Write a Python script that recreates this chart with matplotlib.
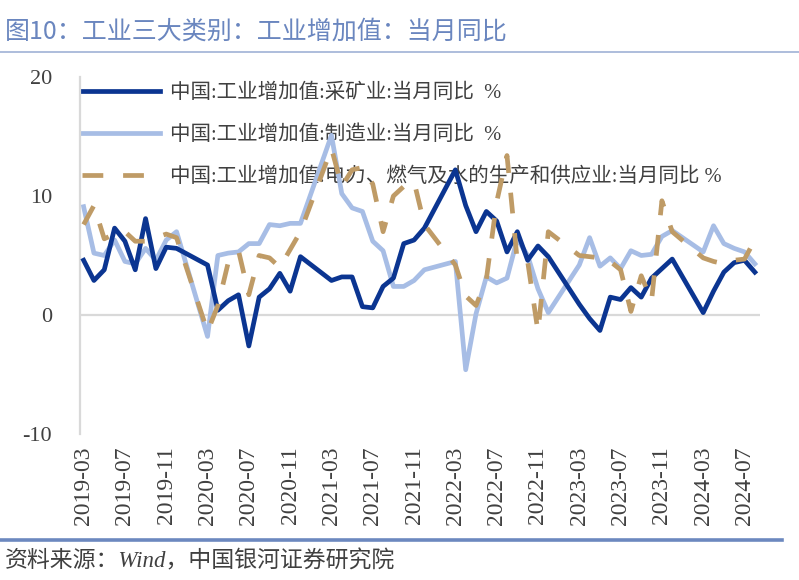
import matplotlib
matplotlib.use('Agg')
import matplotlib.pyplot as plt
from matplotlib.lines import Line2D

# ---------------- data ----------------
months = ['2019-03', '2019-04', '2019-05', '2019-06', '2019-07', '2019-08', '2019-09', '2019-10', '2019-11', '2019-12',
          '2020-03', '2020-04', '2020-05', '2020-06', '2020-07', '2020-08', '2020-09', '2020-10', '2020-11', '2020-12',
          '2021-03', '2021-04', '2021-05', '2021-06', '2021-07', '2021-08', '2021-09', '2021-10', '2021-11', '2021-12',
          '2022-03', '2022-04', '2022-05', '2022-06', '2022-07', '2022-08', '2022-09', '2022-10', '2022-11', '2022-12',
          '2023-03', '2023-04', '2023-05', '2023-06', '2023-07', '2023-08', '2023-09', '2023-10', '2023-11', '2023-12',
          '2024-03', '2024-04', '2024-05', '2024-06', '2024-07', '2024-08']

mining = [4.6, 2.9, 3.8, 7.3, 6.2, 3.8, 8.1, 3.9, 5.7, 5.6,
          4.2, 0.4, 1.2, 1.7, -2.6, 1.5, 2.2, 3.5, 2.0, 4.9,
          2.9, 3.2, 3.2, 0.7, 0.6, 2.4, 3.1, 6.0, 6.3, 7.3,
          12.2, 9.2, 7.0, 8.7, 7.9, 5.3, 7.0, 4.6, 5.8, 4.9,
          0.9, -0.3, -1.3, 1.5, 1.3, 2.3, 1.5, 3.1, 3.9, 4.7,
          0.2, 2.0, 3.6, 4.4, 4.6, 3.6]

manufacturing = [9.1, 5.2, 5.0, 6.3, 4.5, 4.3, 5.6, 4.6, 6.3, 7.0,
                 -1.8, 5.0, 5.2, 5.3, 6.0, 6.0, 7.6, 7.5, 7.7, 7.7,
                 15.1, 10.2, 9.0, 8.7, 6.2, 5.4, 2.4, 2.4, 2.9, 3.8,
                 4.5, -4.6, 0.1, 3.2, 2.7, 3.1, 6.4, 5.0, 2.2, 0.2,
                 4.2, 6.5, 4.1, 4.8, 3.9, 5.4, 5.0, 5.1, 6.6, 7.1,
                 5.3, 7.5, 6.0, 5.6, 5.3, 4.3]

utilities = [7.6, 9.2, 6.4, 6.8, 7.0, 6.2, 6.2, 6.5, 6.8, 6.5,
             -1.4, 0.8, 4.4, 5.4, 1.7, 5.0, 4.8, 4.0, 5.5, 7.0,
             14.0, 10.8, 12.2, 12.4, 11.0, 7.0, 10.0, 10.8, 11.2, 7.6,
             4.2, 1.6, 0.8, 3.0, 9.5, 13.4, 4.5, 4.5, -1.4, 7.0,
             5.0, 4.9, 4.8, 4.5, 3.8, 0.3, 3.3, 1.2, 9.6, 7.0,
             4.8, 4.5, 4.3, 4.6, 4.7, 6.3]

tick_labels = ['2019-03', '2019-07', '2019-11', '2020-03', '2020-07', '2020-11', '2021-03', '2021-07',
               '2021-11', '2022-03', '2022-07', '2022-11', '2023-03', '2023-07', '2023-11', '2024-03', '2024-07']

series_names = ['中国:工业增加值:采矿业:当月同比  %',
                '中国:工业增加值:制造业:当月同比  %',
                '中国:工业增加值:电力、燃气及水的生产和供应业:当月同比 %']

title_text = '图10：工业三大类别：工业增加值：当月同比'
source_text = '资料来源：Wind，中国银河证券研究院'


def month_index(s):
    y, m = s.split('-')
    return (int(y) - 2019) * 12 + (int(m) - 3)


x = [month_index(m) for m in months]
tick_pos = [month_index(t) for t in tick_labels]

# ---------------- figure ----------------
CJK = ['Noto Sans CJK SC', 'DejaVu Sans']
MIX = ['Liberation Serif', 'Noto Sans CJK SC']
plt.rcParams['font.family'] = CJK

fig = plt.figure(figsize=(7.99, 5.80), dpi=100)
ax_h = 434 - 77
ax = fig.add_axes([80 / 799, (580 - 434) / 580, (760 - 80) / 799, ax_h / 580])

c_mining = '#0b3591'
c_manu = '#a7bde5'
c_util = '#bf9b66'
lw = 3.4

l1, = ax.plot(x, mining, color=c_mining, lw=lw, zorder=3)
l2, = ax.plot(x, manufacturing, color=c_manu, lw=lw, zorder=2)
l3, = ax.plot(x, utilities, color=c_util, lw=lw, zorder=4, dashes=(4.4, 4.2), dash_capstyle='butt')

ax.axhline(0, color='#d9d9d9', lw=1.6, zorder=1)

ax.set_ylim(-10, 20)
ax.set_xlim(-0.35, 65.5)
ax.set_yticks([-10, 0, 10, 20])
ax.set_yticklabels(['-10', '0', '10', '20'], family=MIX, fontsize=16, color='#404040')
ax.set_xticks(tick_pos)
ax.set_xticklabels(tick_labels, rotation=90, family=MIX, fontsize=17, color='#404040')
ax.tick_params(axis='both', length=0)
ax.tick_params(axis='y', pad=20)
ax.tick_params(axis='x', pad=9)

for s in ['top', 'right', 'bottom']:
    ax.spines[s].set_visible(False)
ax.spines['left'].set_color('#d9d9d9')
ax.spines['left'].set_linewidth(1.6)

leg = ax.legend([l1, l2, l3], series_names, loc='upper left', bbox_to_anchor=(0.0, 1.0 - 5 / ax_h),
                frameon=False, prop={'family': MIX, 'size': 14.8}, handlelength=3.8,
                handletextpad=0.5, labelspacing=1.08, borderaxespad=0.0, borderpad=0.1)
leg.set_zorder(0)
for t in leg.get_texts():
    t.set_color('#404040')

# title, rules, source
fig.text(5 / 799, 1 - 32 / 580, title_text, fontsize=18, color='#6a86bf', va='center', ha='left',
         family=['Noto Sans CJK SC', 'DejaVu Sans'])
fig.add_artist(Line2D([0, 1], [1 - 52 / 580, 1 - 52 / 580], color='#9fb2d6', lw=1.2))
fig.add_artist(Line2D([0, 782 / 799], [1 - 540 / 580, 1 - 540 / 580], color='#6c88bf', lw=2.6))
fig.text(5 / 799, 1 - 561 / 580, source_text, fontsize=16.5, color='#404040', va='center', ha='left',
         family=MIX, style='italic')

fig.savefig('out.png', dpi=100)
